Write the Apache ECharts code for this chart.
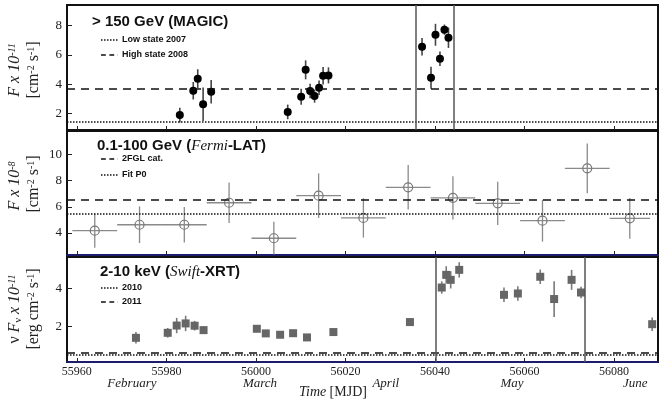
<!DOCTYPE html>
<html>
<head>
<meta charset="utf-8">
<script src="https://cdn.jsdelivr.net/npm/echarts@6/dist/echarts.min.js"></script>
<style>
  html, body { margin: 0; padding: 0; background: #fff; }
  #chart { width: 665px; height: 400px; }
</style>
</head>
<body>
<div id="chart"></div>
<script>
// 时间轴（MJD）
const X_MIN = 55957.8, X_MAX = 56089.8;
const xTicks = [55960, 55980, 56000, 56020, 56040, 56060, 56080];
const monthNames = ['February', 'March', 'April', 'May', 'June'];
const monthT = [55972.3, 56000.9, 56029.0, 56057.2, 56084.7];

// >150 GeV (MAGIC)
const magicT = [55983.0, 55986.0, 55987.0, 55988.2, 55990.0, 56007.1, 56010.1, 56011.1, 56012.1, 56013.1,
  56014.1, 56015.0, 56016.2, 56037.1, 56039.1, 56040.1, 56041.1, 56042.1, 56043.0];
const magicF = [1.88, 3.55, 4.37, 2.62, 3.48, 2.10, 3.14, 4.98, 3.53, 3.18,
  3.75, 4.58, 4.60, 6.56, 4.44, 7.38, 5.74, 7.73, 7.18];
const magicE = [0.5, 0.6, 0.65, 1.15, 0.8, 0.5, 0.55, 0.65, 0.5, 0.45,
  0.5, 0.6, 0.55, 0.6, 0.75, 0.75, 0.5, 0.35, 0.7];
const magicTicks = [2, 4, 6, 8];
const magicLow = 1.42, magicHigh = 3.71;
const magicWindow = [56035.8, 56044.1];

// 0.1-100 GeV (Fermi-LAT)，10 天分箱
const fermiT = [55964, 55974, 55984, 55994, 56004, 56014, 56024, 56034, 56044, 56054, 56064, 56074, 56083.5];
const fermiHalf = [5, 5, 5, 5, 5, 5, 5, 5, 5, 5, 5, 5, 4.5];
const fermiF = [4.18, 4.63, 4.63, 6.31, 3.60, 6.85, 5.15, 7.49, 6.69, 6.27, 4.94, 8.94, 5.12];
const fermiE = [1.3, 1.4, 1.35, 1.55, 1.25, 1.7, 1.5, 1.7, 1.65, 1.65, 1.6, 1.9, 1.55];
const fermiTicks = [4, 6, 8, 10];
const fermi2FGL = 6.52, fermiP0 = 5.45;

// 2-10 keV (Swift-XRT)
const swiftT = [55973.2, 55980.3, 55982.3, 55984.3, 55986.3, 55988.3, 56000.2, 56002.2, 56005.4, 56008.3,
  56011.4, 56017.3, 56034.4, 56041.5, 56042.5, 56043.5, 56045.4, 56055.4, 56058.5, 56063.5,
  56066.6, 56070.5, 56072.6, 56088.5];
const swiftF = [1.41, 1.67, 2.05, 2.16, 2.04, 1.81, 1.88, 1.64, 1.57, 1.65,
  1.43, 1.71, 2.23, 4.03, 4.69, 4.43, 4.95, 3.65, 3.72, 4.59,
  3.43, 4.43, 3.77, 2.12];
const swiftE = [0.3, 0.25, 0.4, 0.4, 0.25, 0.2, 0.1, 0.1, 0.1, 0.15,
  0.12, 0.1, 0.18, 0.32, 0.45, 0.45, 0.4, 0.38, 0.38, 0.38,
  0.93, 0.52, 0.3, 0.35];
const swiftTicks = [2, 4];
const swift2010 = 0.53, swift2011 = 0.65;
const swiftWindow = [56040.2, 56073.4];

const SERIF = 'Liberation Serif, DejaVu Serif, serif';
const SANS = 'Liberation Sans, Arial, sans-serif';

// 误差棒（竖向 + 可选横向）
function errorBars(color, width) {
  return function (params, api) {
    const x = api.value(0), y = api.value(1), ey = api.value(2), ex = api.value(3);
    const a = api.coord([x, y - ey]), b = api.coord([x, y + ey]);
    const kids = [{ type: 'line', shape: { x1: a[0], y1: a[1], x2: b[0], y2: b[1] },
      style: { stroke: color, lineWidth: width } }];
    if (ex) {
      const l = api.coord([x - ex, y]), r = api.coord([x + ex, y]);
      kids.push({ type: 'line', shape: { x1: l[0], y1: l[1], x2: r[0], y2: r[1] },
        style: { stroke: color, lineWidth: width } });
    }
    return { type: 'group', children: kids };
  };
}

function xAxisFor(grid, navy) {
  return {
    type: 'value', gridIndex: grid, min: X_MIN, max: X_MAX,
    axisLine: { show: navy, onZero: false, lineStyle: { color: '#1c1c6e', width: 2 } },
    axisTick: { show: true, inside: true, length: 4, customValues: xTicks, lineStyle: { color: '#222' } },
    axisLabel: { show: grid === 2, customValues: xTicks, margin: 4, fontFamily: SERIF, fontSize: 12, color: '#222',
      formatter: v => String(v) },
    splitLine: { show: false }
  };
}

function yAxisFor(grid, min, max, ticks) {
  return {
    type: 'value', gridIndex: grid, min: min, max: max,
    axisLine: { show: false },
    axisTick: { show: true, inside: true, length: 5, customValues: ticks, lineStyle: { color: '#222' } },
    axisLabel: { customValues: ticks, margin: 5, fontFamily: SERIF, fontSize: 13, color: '#222' },
    splitLine: { show: false }
  };
}

const hLine = (v, type) => ({ yAxis: v, lineStyle: { type: type, color: '#111', width: 1.5 } });
const vLine = v => ({ xAxis: v, lineStyle: { type: 'solid', color: '#555', width: 1.5 } });
const DOT = [1.5, 1.5], DASH = [8, 6];

function mark(data) {
  return { silent: true, symbol: 'none', label: { show: false }, emphasis: { disabled: true }, data: data };
}

function legendItem(x, y, dash, label) {
  return [
    { type: 'line', shape: { x1: x, y1: y, x2: x + 17, y2: y },
      style: { stroke: '#111', lineWidth: 1.5, lineDash: dash } },
    { type: 'text', x: x + 21, y: y, style: { text: label, fontFamily: SANS, fontWeight: 'bold',
      fontSize: 9, fill: '#111', verticalAlign: 'middle' } }
  ];
}

const supRich = {
  i: { fontFamily: SERIF, fontStyle: 'italic', fontSize: 16, fill: '#222' },
  n: { fontFamily: SERIF, fontSize: 16, fill: '#222' },
  s: { fontFamily: SERIF, fontStyle: 'italic', fontSize: 10, fill: '#222', verticalAlign: 'top', lineHeight: 16 },
  u: { fontFamily: SERIF, fontSize: 10, fill: '#222', verticalAlign: 'top', lineHeight: 16 },
  d: { fontFamily: SERIF, fontSize: 10, fill: '#222', verticalAlign: 'bottom', lineHeight: 16 }
};

function yTitle(x, y, text) {
  return { type: 'text', x: x, y: y, rotation: Math.PI / 2,
    style: { text: text, rich: supRich, align: 'center', verticalAlign: 'middle' } };
}

function panelTitle(x, y, text) {
  return { type: 'text', x: x, y: y, style: { text: text, align: 'left', verticalAlign: 'middle',
    rich: {
      b: { fontFamily: SANS, fontWeight: 'bold', fontSize: 15, fill: '#111' },
      i: { fontFamily: SERIF, fontStyle: 'italic', fontSize: 15, fill: '#111' }
    } } };
}

const chart = echarts.init(document.getElementById('chart'));
chart.setOption({
  animation: false,
  grid: [
    { left: 67, top: 5, width: 591, height: 125, show: true, borderColor: '#111', borderWidth: 2, outerBoundsMode: 'none' },
    { left: 67, top: 131, width: 591, height: 124, show: true, borderColor: '#111', borderWidth: 2, outerBoundsMode: 'none' },
    { left: 67, top: 257, width: 591, height: 105, show: true, borderColor: '#111', borderWidth: 2, outerBoundsMode: 'none' }
  ],
  xAxis: [
    xAxisFor(0, false), xAxisFor(1, true), xAxisFor(2, true),
    {
      type: 'value', gridIndex: 2, min: X_MIN, max: X_MAX, position: 'bottom',
      axisLine: { show: false }, axisTick: { show: false }, splitLine: { show: false },
      axisLabel: { customValues: monthT, margin: 15, fontFamily: SERIF, fontStyle: 'italic', fontSize: 13, color: '#222',
        formatter: v => monthNames[monthT.indexOf(v)] || '' }
    }
  ],
  yAxis: [
    yAxisFor(0, 0.86, 9.42, magicTicks),
    yAxisFor(1, 2.32, 11.79, fermiTicks),
    yAxisFor(2, 0.15, 5.62, swiftTicks)
  ],
  graphic: [
    panelTitle(92, 22, '{b|> 150 GeV (MAGIC)}'),
    ...legendItem(101, 40, DOT, 'Low state 2007'),
    ...legendItem(101, 55, DASH.map(d => d * 0.6), 'High state 2008'),
    panelTitle(97, 146, '{b|0.1-100 GeV (}{i|Fermi}{b|-LAT)}'),
    ...legendItem(101, 159, DASH.map(d => d * 0.6), '2FGL cat.'),
    ...legendItem(101, 175, DOT, 'Fit P0'),
    panelTitle(100, 272, '{b|2-10 keV (}{i|Swift}{b|-XRT)}'),
    ...legendItem(101, 288, DOT, '2010'),
    ...legendItem(101, 302, DASH.map(d => d * 0.6), '2011'),
    yTitle(15, 70, '{i|F x 10}{s|-11}'),
    yTitle(34, 70, '{n|[cm}{u|-2}{n| s}{u|-1}{n|]}'),
    yTitle(15, 186, '{i|F x 10}{s|-8}'),
    yTitle(34, 184, '{n|[cm}{u|-2}{n| s}{u|-1}{n|]}'),
    yTitle(15, 309, '{n|ν }{i|F}{d|ν}{i| x 10}{s|-11}'),
    yTitle(34, 309, '{n|[erg cm}{u|-2}{n| s}{u|-1}{n|]}'),
    { type: 'text', x: 333, y: 392, style: { text: '{i|Time} {n|[MJD]}', align: 'center', verticalAlign: 'middle',
      rich: { i: { fontFamily: SERIF, fontStyle: 'italic', fontSize: 14, fill: '#222' },
        n: { fontFamily: SERIF, fontSize: 14, fill: '#222' } } } }
  ],
  series: [
    {
      type: 'custom', xAxisIndex: 0, yAxisIndex: 0, clip: true, silent: true,
      renderItem: errorBars('#444', 1.6),
      encode: { x: 0, y: 1 },
      data: magicT.map((t, i) => [t, magicF[i], magicE[i], 0])
    },
    {
      type: 'scatter', xAxisIndex: 0, yAxisIndex: 0, symbol: 'circle', symbolSize: 8, z: 3,
      itemStyle: { color: '#000', opacity: 1 },
      data: magicT.map((t, i) => [t, magicF[i]]),
      markLine: mark([hLine(magicLow, DOT), hLine(magicHigh, DASH), vLine(magicWindow[0]), vLine(magicWindow[1])])
    },
    {
      type: 'custom', xAxisIndex: 1, yAxisIndex: 1, clip: true, silent: true,
      renderItem: errorBars('#8a8a8a', 1.3),
      encode: { x: 0, y: 1 },
      data: fermiT.map((t, i) => [t, fermiF[i], fermiE[i], fermiHalf[i]])
    },
    {
      type: 'scatter', xAxisIndex: 1, yAxisIndex: 1, symbol: 'circle', symbolSize: 9, z: 3,
      itemStyle: { color: 'rgba(255,255,255,0)', borderColor: '#777', borderWidth: 1.2, opacity: 1 },
      data: fermiT.map((t, i) => [t, fermiF[i]]),
      markLine: mark([hLine(fermi2FGL, DASH), hLine(fermiP0, DOT)])
    },
    {
      type: 'custom', xAxisIndex: 2, yAxisIndex: 2, clip: true, silent: true,
      renderItem: errorBars('#7a7a7a', 1.6),
      encode: { x: 0, y: 1 },
      data: swiftT.map((t, i) => [t, swiftF[i], swiftE[i], 0])
    },
    {
      type: 'scatter', xAxisIndex: 2, yAxisIndex: 2, symbol: 'rect', symbolSize: 8, z: 3,
      itemStyle: { color: '#666', opacity: 1 },
      data: swiftT.map((t, i) => [t, swiftF[i]]),
      markLine: mark([hLine(swift2010, DOT), hLine(swift2011, DASH), vLine(swiftWindow[0]), vLine(swiftWindow[1])])
    }
  ]
});
</script>
</body>
</html>
